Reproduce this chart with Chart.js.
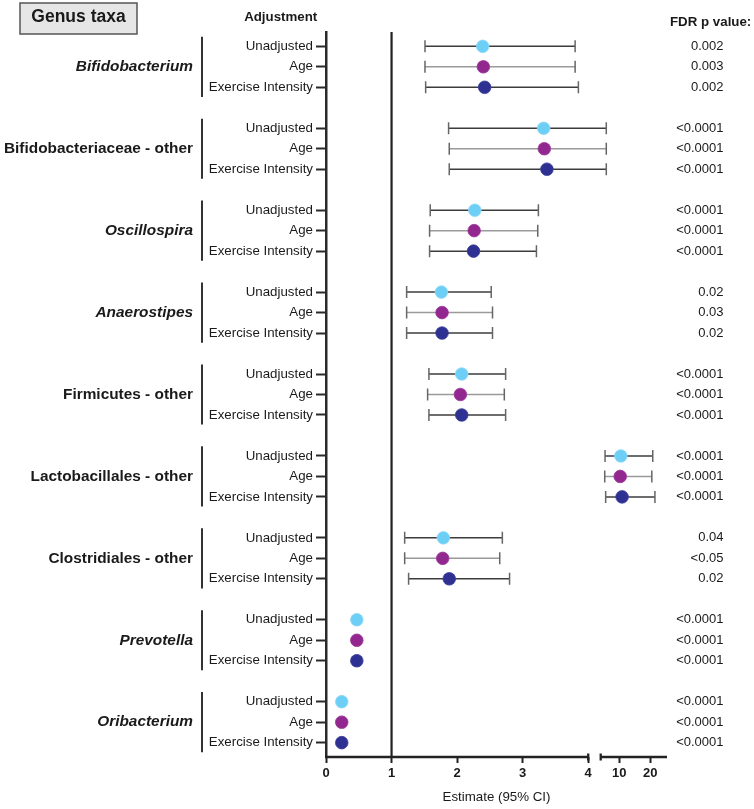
<!DOCTYPE html>
<html>
<head>
<meta charset="utf-8">
<script src="https://cdn.jsdelivr.net/npm/chart.js@4.4.1/dist/chart.umd.min.js"></script>
<style>
  html, body { margin: 0; padding: 0; background: #fff; }
  canvas { display: block; }
</style>
</head>
<body>
<canvas id="plot" width="754" height="809"></canvas>
<script>
const taxa = ['Bifidobacterium', 'Bifidobacteriaceae - other', 'Oscillospira', 'Anaerostipes',
  'Firmicutes - other', 'Lactobacillales - other', 'Clostridiales - other', 'Prevotella', 'Oribacterium'];
const italicTaxa = [true, false, true, true, false, false, false, true, true];
const adjustments = ['Unadjusted', 'Age', 'Exercise Intensity'];

// estimates and 95% CI, one value per taxon
const estUnadjusted = [2.39, 3.32, 2.27, 1.76, 2.07, 10.5, 1.79, 0.47, 0.24];
const lowUnadjusted = [1.51, 1.87, 1.59, 1.23, 1.57, 5.4, 1.20, 0.45, 0.22];
const highUnadjusted = [3.80, 5.8, 3.24, 2.52, 2.74, 20.8, 2.69, 0.49, 0.26];

const estAge = [2.40, 3.33, 2.26, 1.77, 2.05, 10.3, 1.78, 0.47, 0.24];
const lowAge = [1.51, 1.88, 1.58, 1.23, 1.55, 5.3, 1.20, 0.45, 0.21];
const highAge = [3.80, 5.8, 3.23, 2.54, 2.72, 20.5, 2.65, 0.49, 0.27];

const estExercise = [2.42, 3.37, 2.25, 1.77, 2.07, 10.9, 1.88, 0.47, 0.24];
const lowExercise = [1.52, 1.88, 1.58, 1.23, 1.57, 5.6, 1.26, 0.45, 0.22];
const highExercise = [3.85, 5.8, 3.21, 2.54, 2.74, 21.5, 2.80, 0.49, 0.26];

const pUnadjusted = ['0.002', '<0.0001', '<0.0001', '0.02', '<0.0001', '<0.0001', '0.04', '<0.0001', '<0.0001'];
const pAge = ['0.003', '<0.0001', '<0.0001', '0.03', '<0.0001', '<0.0001', '<0.05', '<0.0001', '<0.0001'];
const pExercise = ['0.002', '<0.0001', '<0.0001', '0.02', '<0.0001', '<0.0001', '0.02', '<0.0001', '<0.0001'];

const xTicks = [0, 1, 2, 3, 4, 10, 20];

// broken x axis: 0..4 then 4..X_MAX
const BREAK_AT = 4;
const X_MAX = 25.4;
const SEG1_END = 0.769;
const SEG2_START = 0.8056;

const FONT = '"Liberation Sans", Arial, sans-serif';
const INK = '#1a1a1a';

const series = [
  { est: estUnadjusted, low: lowUnadjusted, high: highUnadjusted, p: pUnadjusted, fill: '#6dcff6', edge: '#8fdaf7', whisker: '#3c3c3c' },
  { est: estAge, low: lowAge, high: highAge, p: pAge, fill: '#92278f', edge: '#9c3a99', whisker: '#9a9a9a' },
  { est: estExercise, low: lowExercise, high: highExercise, p: pExercise, fill: '#2e3192', edge: '#3a3d98', whisker: '#3c3c3c' },
];

// row index: 4 slots per taxon, last one is the gap
const rowOf = (g, a) => g * 4 + a;
const rows = [];
taxa.forEach((t, g) => adjustments.forEach((s, a) => rows.push(rowOf(g, a))));

class BrokenLinearScale extends Chart.LinearScale {
  determineDataLimits() {
    this.min = 0;
    this.max = X_MAX;
  }
  buildTicks() {
    return xTicks.map(v => ({ value: v }));
  }
  getPixelForValue(value) {
    if (value === null || isNaN(value)) return NaN;
    let dec;
    if (value <= BREAK_AT) dec = SEG1_END * value / BREAK_AT;
    else dec = SEG2_START + (1 - SEG2_START) * (value - BREAK_AT) / (X_MAX - BREAK_AT);
    return this.getPixelForDecimal(dec);
  }
  getValueForPixel(pixel) {
    const dec = this.getDecimalForPixel(pixel);
    if (dec <= SEG1_END) return dec / SEG1_END * BREAK_AT;
    return BREAK_AT + (dec - SEG2_START) / (1 - SEG2_START) * (X_MAX - BREAK_AT);
  }
}
BrokenLinearScale.id = 'brokenLinear';
BrokenLinearScale.defaults = {};
Chart.register(BrokenLinearScale);

const decorations = {
  id: 'decorations',
  beforeDatasetsDraw(chart) {
    const ctx = chart.ctx;
    const xs = chart.scales.x, ys = chart.scales.y;
    ctx.save();
    series.forEach((s, a) => {
      s.low.forEach((lo, g) => {
        const py = ys.getPixelForValue(rowOf(g, a));
        const x0 = xs.getPixelForValue(lo);
        const x1 = xs.getPixelForValue(s.high[g]);
        ctx.strokeStyle = s.whisker;
        ctx.lineWidth = 1.5;
        ctx.beginPath();
        ctx.moveTo(x0, py);
        ctx.lineTo(x1, py);
        ctx.stroke();
        ctx.strokeStyle = '#666';
        ctx.beginPath();
        ctx.moveTo(x0, py - 6);
        ctx.lineTo(x0, py + 6);
        ctx.moveTo(x1, py - 6);
        ctx.lineTo(x1, py + 6);
        ctx.stroke();
      });
    });
    ctx.restore();
  },
  afterDraw(chart) {
    const ctx = chart.ctx;
    const xs = chart.scales.x, ys = chart.scales.y;
    const area = chart.chartArea;
    ctx.save();

    // broken x axis line
    const ay = area.bottom;
    const b1 = xs.getPixelForValue(BREAK_AT);
    const b2 = xs.getPixelForDecimal(SEG2_START);
    ctx.strokeStyle = '#222';
    ctx.lineWidth = 2.3;
    ctx.beginPath();
    ctx.moveTo(xs.getPixelForValue(0) - 1, ay);
    ctx.lineTo(b1, ay);
    ctx.moveTo(b2, ay);
    ctx.lineTo(xs.right, ay);
    ctx.moveTo(b1, ay - 3.5);
    ctx.lineTo(b1, ay + 3.5);
    ctx.moveTo(b2, ay - 3.5);
    ctx.lineTo(b2, ay + 3.5);
    ctx.stroke();

    // taxon names with brackets
    ctx.fillStyle = INK;
    ctx.textBaseline = 'middle';
    ctx.textAlign = 'right';
    taxa.forEach((name, g) => {
      ctx.font = (italicTaxa[g] ? 'italic ' : '') + 'bold 15.4px ' + FONT;
      ctx.fillText(name, 193, ys.getPixelForValue(rowOf(g, 1)));
      ctx.strokeStyle = '#333';
      ctx.lineWidth = 2;
      ctx.beginPath();
      ctx.moveTo(202, ys.getPixelForValue(rowOf(g, 0)) - 9.6);
      ctx.lineTo(202, ys.getPixelForValue(rowOf(g, 2)) + 9.6);
      ctx.stroke();
    });

    // p values
    ctx.font = '13px ' + FONT;
    series.forEach((s, a) => {
      s.p.forEach((txt, g) => {
        ctx.fillText(txt, 723.5, ys.getPixelForValue(rowOf(g, a)));
      });
    });

    // headers
    ctx.font = 'bold 13.3px ' + FONT;
    ctx.textAlign = 'left';
    ctx.fillText('FDR p value:', 670, 22);
    ctx.textAlign = 'center';
    ctx.fillText('Adjustment', 280.7, 17);

    ctx.fillStyle = '#e6e6e6';
    ctx.fillRect(20, 3, 117, 31);
    ctx.strokeStyle = '#555';
    ctx.lineWidth = 1.5;
    ctx.strokeRect(20, 3, 117, 31);
    ctx.fillStyle = INK;
    ctx.font = 'bold 17.5px ' + FONT;
    ctx.fillText('Genus taxa', 78.5, 17.5);

    ctx.restore();
  }
};

const datasets = series.map((s, a) => ({
  label: adjustments[a],
  data: s.est.map((v, g) => ({ x: v, y: rowOf(g, a) })),
  backgroundColor: s.fill,
  borderColor: s.edge,
  pointRadius: 6.3,
  pointBorderWidth: 0.8,
  pointHoverRadius: 6.3,
}));
datasets.push({
  label: 'reference',
  data: [{ x: 1, y: -0.7 }, { x: 1, y: 34.7 }],
  showLine: true,
  borderColor: '#222',
  borderWidth: 2.2,
  pointRadius: 0,
  order: 10,
});

new Chart(document.getElementById('plot'), {
  type: 'scatter',
  data: { datasets: datasets },
  options: {
    responsive: false,
    animation: false,
    devicePixelRatio: 1,
    layout: { padding: { top: 32, right: 87, left: 0, bottom: 0 } },
    plugins: { legend: { display: false }, tooltip: { enabled: false } },
    scales: {
      x: {
        type: 'brokenLinear',
        afterFit: (s) => { s.height = 52; },
        border: { display: false },
        grid: { drawOnChartArea: false, tickLength: 6, tickWidth: 2, tickColor: '#222' },
        ticks: {
          autoSkip: false, maxRotation: 0, padding: 3, color: INK,
          font: { family: FONT, size: 13, weight: 'bold' },
          callback: (v) => String(v),
        },
        title: {
          display: true, text: 'Estimate (95% CI)', color: INK,
          font: { family: FONT, size: 13.3 },
          padding: { top: 0, bottom: 4 },
        },
      },
      y: {
        type: 'linear',
        reverse: true,
        min: -0.7,
        max: 34.7,
        afterFit: (s) => { s.width = 326; },
        afterBuildTicks: (s) => { s.ticks = rows.map(v => ({ value: v })); },
        border: { display: true, color: '#2a2a2a', width: 2.5 },
        grid: { drawOnChartArea: false, tickLength: 10, tickWidth: 2, tickColor: '#2a2a2a' },
        ticks: {
          autoSkip: false, padding: 3, color: INK,
          font: { family: FONT, size: 13.3 },
          callback: (v) => adjustments[v % 4],
        },
      },
    },
  },
  plugins: [decorations],
});
</script>
</body>
</html>
